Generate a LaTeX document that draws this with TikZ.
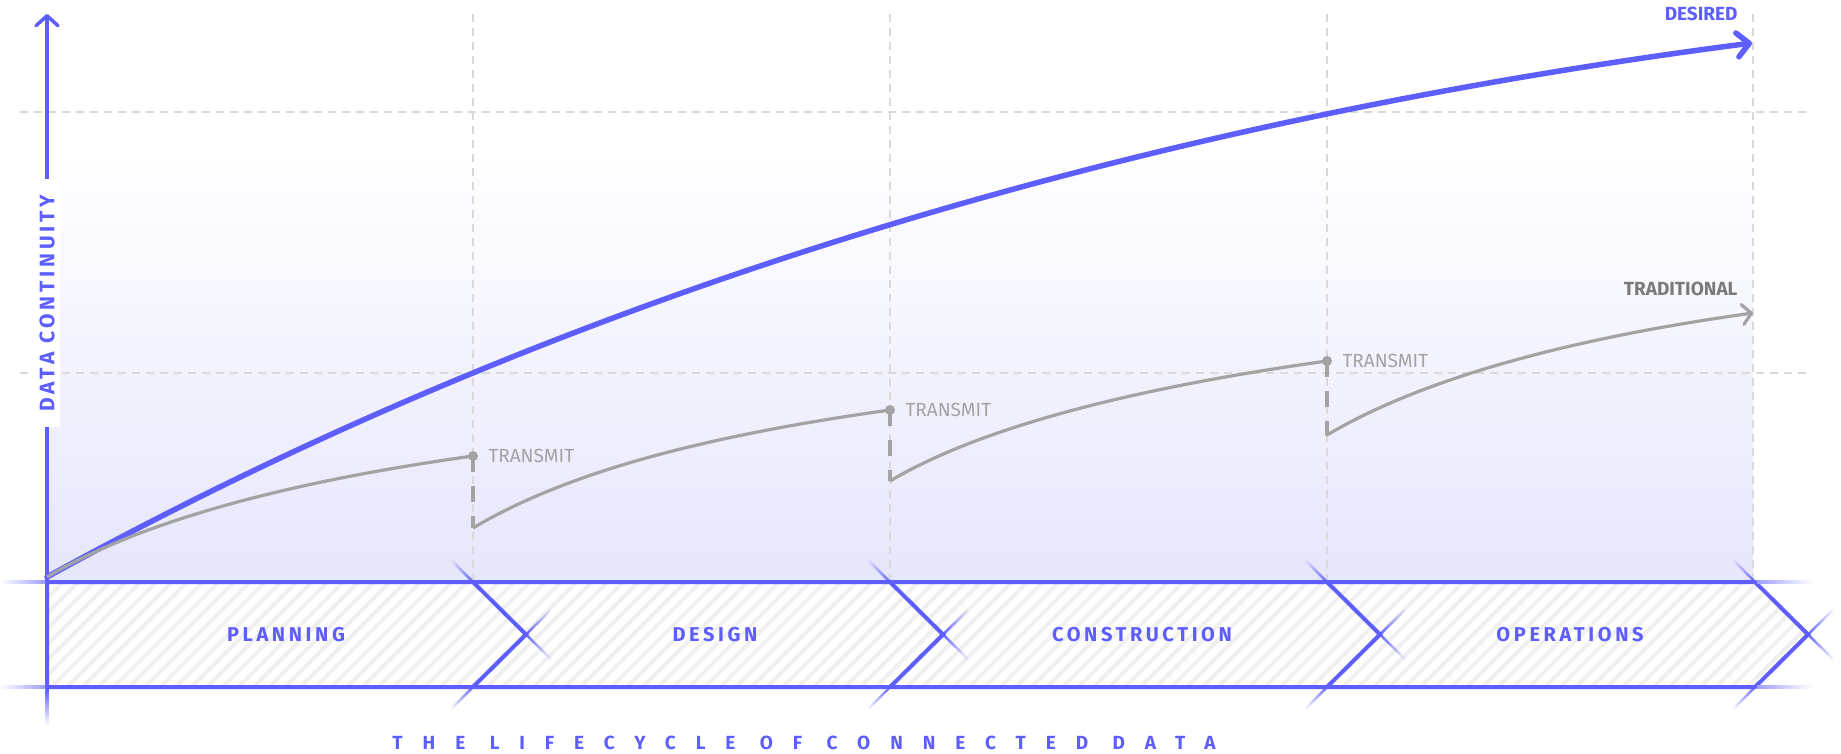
\documentclass[tikz,border=0pt]{standalone}
\usepackage{fontspec}
\setmainfont{Fira Sans}
\newfontfamily\phasefont[LetterSpace=18]{Fira Sans}
\newfontfamily\titlefont[LetterSpace=105]{Fira Sans}
\usepackage{xcolor}
\usetikzlibrary{arrows.meta,patterns.meta,fadings,positioning}
\definecolor{lifeblue}{HTML}{5E5EFF}
\definecolor{lifegray}{HTML}{A3A3A3}
\definecolor{labelgray}{HTML}{7A7A7A}
\definecolor{gridgray}{HTML}{D9D9D9}
\definecolor{lavender}{HTML}{E6E6FC}
\definecolor{hatchgray}{HTML}{F0F0F0}

\begin{document}
\begin{tikzpicture}[
    x=1pt, y=-1pt,
    grid/.style={gridgray, line width=1.5pt, dash pattern=on 8pt off 6pt},
    bandline/.style={lifeblue, line width=4pt},
    fadeline/.style={lifeblue, line width=2.5pt},
    oldcurve/.style={lifegray, line width=3.2pt},
    jump/.style={lifegray, line width=4pt, dash pattern=on 16pt off 14pt},
    transmit/.style={lifegray, font=\fontsize{19}{21}\selectfont},
    phase/.style={text=lifeblue, font=\phasefont\bfseries\fontsize{20}{22}\selectfont},
  ]
  \useasboundingbox (0,0) rectangle (1841,754);

  % tint above the band
  \shade[top color=white, bottom color=lavender] (47,150) rectangle (1753,582);

  % grid
  \foreach \gx in {473,890,1327,1753}
    \draw[grid] (\gx,14) -- (\gx,582);
  \foreach \gy in {112,373}
    \draw[grid] (20,\gy) -- (1806,\gy);

  % lifecycle band
  \fill[white] (47,582) -- (1755,582) -- (1808,634.5) -- (1755,687) -- (47,687) -- cycle;
  \fill[pattern={Lines[angle=45,distance=11pt,line width=4pt]}, pattern color=hatchgray]
    (47,582) -- (1755,582) -- (1808,634.5) -- (1755,687) -- (47,687) -- cycle;
  \draw[bandline] (47,582) -- (1755,582) -- (1808,634.5) -- (1755,687) -- (47,687) -- cycle;
  \foreach \cx in {473,890,1327}
    \draw[bandline] (\cx,582) -- (\cx+53,634.5) -- (\cx,687);

  % faded extensions
  \foreach \cx in {473,890,1327,1755} {
    \draw[fadeline, path fading=west] (\cx-22,560) -- (\cx,582);
    \draw[fadeline, path fading=west] (\cx-22,709) -- (\cx,687);
    \draw[fadeline, path fading=east] (\cx+53,634.5) -- (\cx+78,659);
    \draw[fadeline, path fading=east] (\cx+53,634.5) -- (\cx+78,610);
  }
  \shade[left color=white, right color=lifeblue!60] (0,580.5) rectangle (45,583.5);
  \shade[left color=white, right color=lifeblue!60] (0,685.5) rectangle (45,688.5);
  \shade[left color=lifeblue!60, right color=white] (1757,580.5) rectangle (1812,583.5);
  \shade[left color=lifeblue!60, right color=white] (1757,685.5) rectangle (1812,688.5);
  \shade[top color=lifeblue, bottom color=white] (45.25,689) rectangle (48.75,725);

  % axis
  \draw[lifeblue, line width=3.5pt, -{Straight Barb[length=10pt,width=22pt,round]}] (47,582) -- (47,14);
  \node[rotate=90, fill=white, inner xsep=16pt, inner ysep=5pt, text=lifeblue,
        font=\phasefont\bfseries\fontsize{21}{23}\selectfont] (ylabel) at (47,303) {DATA CONTINUITY};

  % desired
  \coordinate (d0) at (47,577);
  \coordinate (d1) at (1752,43);
  \draw[lifeblue, line width=5.5pt, line cap=round, -{Straight Barb[length=12pt,width=24pt,round]}]
    (d0) .. controls (542,304) and (1111,126) .. (d1);
  \node[anchor=east, lifeblue, font=\bfseries\fontsize{19}{21}\selectfont] (desired) at (1741,14) {DESIRED};

  % traditional
  \coordinate (s0) at (47,577);   \coordinate (e0) at (473,456);
  \coordinate (s1) at (473,528);  \coordinate (e1) at (890,410);
  \coordinate (s2) at (890,481);  \coordinate (e2) at (1327,361);
  \coordinate (s3) at (1327,435); \coordinate (e3) at (1753,313);
  \draw[oldcurve] (s0) .. controls +(91,-54) and +(-193,27) .. (e0);
  \draw[oldcurve] (s1) .. controls +(91,-54) and +(-193,27) .. (e1);
  \draw[oldcurve] (s2) .. controls +(91,-54) and +(-193,27) .. (e2);
  \draw[oldcurve, line cap=round, -{Straight Barb[length=9pt,width=20pt,round]}]
    (s3) .. controls +(91,-54) and +(-193,27) .. (e3);
  \foreach \i/\j in {0/1,1/2,2/3} {
    \draw[jump] (e\i) -- (s\j);
    \fill[lifegray] (e\i) circle[radius=5pt];
    \node[transmit, right=12pt of e\i] (transmit\i) {TRANSMIT};
  }
  \node[anchor=east, labelgray, font=\bfseries\fontsize{19}{21}\selectfont] (traditional) at (1741,289) {TRADITIONAL};

  % phases
  \node[phase] (planning) at (286,634.5) {PLANNING};
  \node[phase] (design) at (715,634.5) {DESIGN};
  \node[phase] (construction) at (1142,634.5) {CONSTRUCTION};
  \node[phase] (operations) at (1570,634.5) {OPERATIONS};

  \node[text=lifeblue, font=\titlefont\bfseries\fontsize{19}{21}\selectfont] (title) at (804,743) {THE LIFECYCLE OF CONNECTED DATA};
\end{tikzpicture}
\end{document}
